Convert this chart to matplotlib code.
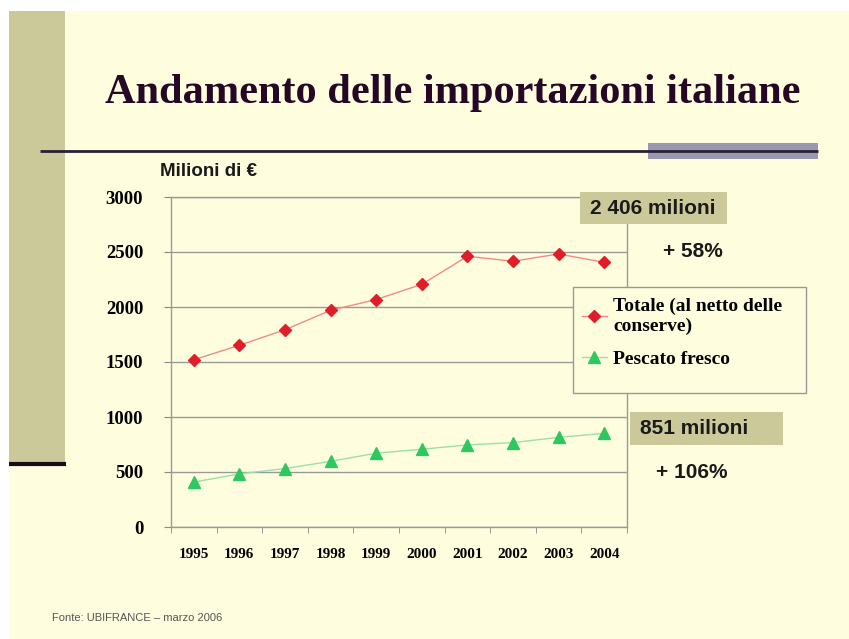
import matplotlib
matplotlib.use('Agg')
import matplotlib.pyplot as plt
from matplotlib.patches import Rectangle

years = ['1995', '1996', '1997', '1998', '1999', '2000', '2001', '2002', '2003', '2004']
totale = [1520, 1652, 1793, 1970, 2068, 2206, 2461, 2416, 2482, 2406]
pescato = [408, 483, 531, 597, 671, 707, 746, 767, 815, 851]
y_ticks = [0, 500, 1000, 1500, 2000, 2500, 3000]

W, H = 849, 639
CREAM = '#FEFEDE'
KHAKI = '#CBC99A'

fig = plt.figure(figsize=(W / 100, H / 100), dpi=100, facecolor='white')

# slide background in pixel coordinates
bg = fig.add_axes([0, 0, 1, 1], zorder=0)
bg.set_xlim(0, W)
bg.set_ylim(H, 0)
bg.axis('off')
bg.add_patch(Rectangle((9, 11), W - 9, H - 11, color=CREAM, lw=0))
bg.add_patch(Rectangle((9, 11), 56, 453, color=KHAKI, lw=0))
bg.plot([9, 66], [464, 464], color='#1a0a1a', lw=3, solid_capstyle='butt')
bg.add_patch(Rectangle((648, 143), 170, 16, color='#9a98b0', lw=0))
bg.plot([40, 818], [151, 151], color='#2a2035', lw=2, solid_capstyle='butt')

fig.text(453 / W, 1 - 93 / H, 'Andamento delle importazioni italiane',
         ha='center', va='center', fontsize=30.5, fontweight='bold',
         family='Liberation Serif', color='#260826')
fig.text(160 / W, 1 - 171 / H, 'Milioni di €', ha='left', va='center',
         fontsize=13.5, fontweight='bold', family='Liberation Sans', color='#1a1a1a')
fig.text(52 / W, 1 - 618 / H, 'Fonte: UBIFRANCE – marzo 2006', ha='left', va='center',
         fontsize=8, family='Liberation Sans', color='#555555')

# chart
ax = fig.add_axes([171 / W, 1 - 527 / H, 456 / W, 330 / H], zorder=2)
ax.set_facecolor('none')
x = list(range(len(years)))
ax.plot(x, totale, color='#F08A8A', lw=1, marker='D', markersize=6,
        markerfacecolor='#E01E2A', markeredgecolor='#E01E2A',
        label='Totale (al netto delle\nconserve)')
ax.plot(x, pescato, color='#99E0A8', lw=1, marker='^', markersize=8,
        markerfacecolor='#2FC860', markeredgecolor='#2FC860',
        label='Pescato fresco')

ax.set_xlim(-0.5, len(years) - 0.5)
ax.set_ylim(0, 3000)
ax.set_yticks(y_ticks)
ax.set_yticklabels([str(v) for v in y_ticks])
ax.set_xticks(x)
ax.set_xticklabels(years)
ax.set_xticks([i - 0.5 for i in range(len(years) + 1)], minor=True)
ax.tick_params(axis='x', which='major', length=0, pad=15)
ax.tick_params(axis='x', which='minor', length=4, color='#888888', direction='out')
ax.tick_params(axis='y', length=5, color='#888888', pad=15)
for lab in ax.get_xticklabels():
    lab.set_fontfamily('Liberation Serif')
    lab.set_fontweight('bold')
    lab.set_fontsize(11)
for lab in ax.get_yticklabels():
    lab.set_fontfamily('Liberation Serif')
    lab.set_fontweight('bold')
    lab.set_fontsize(13.5)
ax.yaxis.grid(True, color='#999999', lw=1)
ax.set_axisbelow(True)
for s in ax.spines.values():
    s.set_color('#999999')
    s.set_linewidth(1)

# overlay layer for legend frame and value boxes (pixel coords)
top = fig.add_axes([0, 0, 1, 1], zorder=4)
top.set_xlim(0, W)
top.set_ylim(H, 0)
top.axis('off')
top.patch.set_alpha(0)
top.add_patch(Rectangle((573, 287), 233, 106, facecolor=CREAM, edgecolor='#999999', lw=1))
top.add_patch(Rectangle((580, 192), 147, 32, facecolor=KHAKI, edgecolor='none'))
top.add_patch(Rectangle((630, 412), 153, 33, facecolor=KHAKI, edgecolor='none'))

handles, labels = ax.get_legend_handles_labels()
leg = fig.legend(handles, labels, loc='upper left', bbox_to_anchor=(576 / W, 1 - 292 / H),
                 bbox_transform=fig.transFigure, frameon=False,
                 prop={'family': 'Liberation Serif', 'weight': 'bold', 'size': 14},
                 handlelength=1.3, handletextpad=0.3, borderpad=0.3,
                 labelspacing=0.8, borderaxespad=0)
leg.set_zorder(6)

fig.text(653 / W, 1 - 208 / H, '2 406 milioni', ha='center', va='center',
         fontsize=15, fontweight='bold', family='Liberation Sans',
         color='#1a1a1a', zorder=6)
fig.text(693 / W, 1 - 252 / H, '+ 58%', ha='center', va='center',
         fontsize=15, fontweight='bold', family='Liberation Sans', color='#1a1a1a')
fig.text(694 / W, 1 - 429 / H, '851 milioni', ha='center', va='center',
         fontsize=15, fontweight='bold', family='Liberation Sans',
         color='#1a1a1a', zorder=6)
fig.text(692 / W, 1 - 472 / H, '+ 106%', ha='center', va='center',
         fontsize=15, fontweight='bold', family='Liberation Sans', color='#1a1a1a')

fig.savefig('out.png', dpi=100, facecolor='white')
